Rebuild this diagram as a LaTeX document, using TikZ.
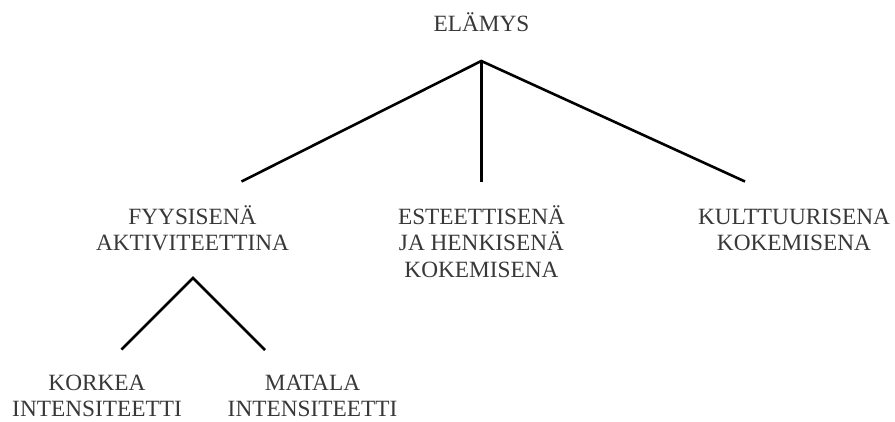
\documentclass[tikz,border=0pt]{standalone}
\usepackage{fontspec}
\setmainfont{Liberation Serif}
\begin{document}
\begin{tikzpicture}[x=1pt,y=-1pt,
  lbl/.style={anchor=base,align=center,inner sep=0pt,text=black!78,
    font=\fontsize{23.3}{26.5}\selectfont},
  conn/.style={line width=2.6pt,draw=black}]
\useasboundingbox (0,0) rectangle (895,421);
\node[lbl] (root) at (481.5,31) {ELÄMYS};
\node[lbl] (fyys) at (192.5,250.5) {FYYSISENÄ\\AKTIVITEETTINA};
\node[lbl] (este) at (481.5,277) {ESTEETTISENÄ\\JA HENKISENÄ\\KOKEMISENA};
\node[lbl] (kult) at (794,250.5) {KULTTUURISENA\\KOKEMISENA};
\node[lbl] (kork) at (97,416.5) {KORKEA\\INTENSITEETTI};
\node[lbl] (mata) at (312.5,416.5) {MATALA\\INTENSITEETTI};
\coordinate (top) at (481.3,61);
\coordinate (ta) at (241.5,181.5);
\coordinate (tb) at (481.3,181.5);
\coordinate (tc) at (745,181.5);
\coordinate (sub) at (193,278);
\coordinate (sa) at (121.5,349.5);
\coordinate (sb) at (265,350);
\draw[conn,line join=miter] (ta) -- (top) -- (tc);
\draw[conn] (top) -- (tb);
\draw[conn,line join=miter] (sa) -- (sub) -- (sb);
\end{tikzpicture}
\end{document}
